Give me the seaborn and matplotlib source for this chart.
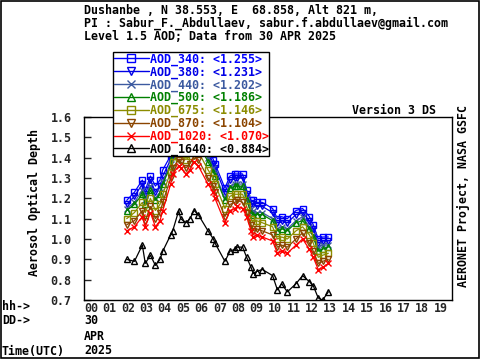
import matplotlib
matplotlib.use("Agg")
import matplotlib.pyplot as plt
import seaborn as sns
import pandas as pd
from matplotlib.lines import Line2D
from matplotlib.patches import Rectangle

sns.set_style("ticks")
plt.rcParams['font.family'] = ['DejaVu Sans Mono']
plt.rcParams['font.weight'] = 'bold'

hours = [2.32, 2.74, 3.17, 3.33, 3.61, 3.88, 4.13, 4.28, 4.71, 4.82, 5.15, 5.25, 5.54, 5.76, 5.98, 6.21,
         6.74, 7.03, 7.12, 7.66, 7.93, 8.21, 8.33, 8.62, 8.84, 9.08, 9.20, 9.38, 9.69, 10.25, 10.51,
         10.74, 11.05, 11.52, 11.88, 12.25, 12.46, 12.73, 12.97, 13.28]

aod_340 = [1.19, 1.23, 1.29, 1.24, 1.31, 1.26, 1.29, 1.34, 1.41, 1.46, 1.54, 1.53, 1.50, 1.52, 1.56, 1.54,
           1.45, 1.39, 1.37, 1.25, 1.31, 1.32, 1.32, 1.32, 1.24, 1.19, 1.19, 1.18, 1.18, 1.15, 1.10,
           1.11, 1.10, 1.14, 1.15, 1.11, 1.07, 1.00, 1.01, 1.01]
aod_380 = [1.17, 1.21, 1.27, 1.22, 1.29, 1.23, 1.26, 1.31, 1.39, 1.44, 1.52, 1.51, 1.48, 1.50, 1.54, 1.52,
           1.43, 1.37, 1.35, 1.23, 1.29, 1.30, 1.30, 1.30, 1.22, 1.17, 1.17, 1.16, 1.16, 1.13, 1.08,
           1.09, 1.08, 1.12, 1.13, 1.09, 1.05, 0.98, 0.99, 0.99]
aod_440 = [1.15, 1.18, 1.24, 1.19, 1.26, 1.20, 1.23, 1.28, 1.37, 1.42, 1.49, 1.48, 1.45, 1.47, 1.51, 1.49,
           1.40, 1.35, 1.32, 1.20, 1.26, 1.27, 1.27, 1.27, 1.20, 1.15, 1.14, 1.13, 1.13, 1.10, 1.05,
           1.06, 1.05, 1.09, 1.11, 1.06, 1.02, 0.96, 0.97, 0.97]
aod_500 = [1.14, 1.17, 1.22, 1.17, 1.24, 1.19, 1.22, 1.27, 1.36, 1.41, 1.47, 1.46, 1.43, 1.45, 1.49, 1.47,
           1.38, 1.33, 1.31, 1.19, 1.25, 1.26, 1.26, 1.26, 1.19, 1.13, 1.12, 1.12, 1.12, 1.09, 1.04,
           1.05, 1.04, 1.08, 1.09, 1.05, 1.01, 0.94, 0.95, 0.96]
aod_675 = [1.10, 1.13, 1.18, 1.13, 1.20, 1.14, 1.17, 1.22, 1.33, 1.38, 1.43, 1.42, 1.39, 1.41, 1.45, 1.43,
           1.34, 1.30, 1.27, 1.15, 1.21, 1.22, 1.22, 1.22, 1.16, 1.10, 1.08, 1.09, 1.08, 1.06, 1.00,
           1.01, 1.00, 1.04, 1.06, 1.02, 0.98, 0.91, 0.92, 0.93]
aod_870 = [1.07, 1.09, 1.14, 1.09, 1.16, 1.10, 1.13, 1.18, 1.30, 1.35, 1.39, 1.38, 1.35, 1.37, 1.41, 1.39,
           1.30, 1.26, 1.23, 1.11, 1.17, 1.18, 1.19, 1.18, 1.13, 1.07, 1.04, 1.05, 1.04, 1.02, 0.96,
           0.97, 0.96, 1.00, 1.03, 0.98, 0.94, 0.88, 0.89, 0.90]
aod_1020 = [1.04, 1.06, 1.11, 1.06, 1.13, 1.06, 1.09, 1.14, 1.27, 1.32, 1.36, 1.35, 1.32, 1.34, 1.38, 1.36,
            1.27, 1.23, 1.20, 1.08, 1.14, 1.15, 1.16, 1.15, 1.11, 1.04, 1.01, 1.02, 1.01, 0.99, 0.93,
            0.94, 0.93, 0.97, 1.00, 0.95, 0.91, 0.85, 0.86, 0.88]
aod_1640 = [0.90, 0.89, 0.97, 0.88, 0.92, 0.87, 0.90, 0.94, 1.02, 1.04, 1.14, 1.10, 1.08, 1.10, 1.14, 1.12,
            1.04, 1.00, 0.98, 0.89, 0.94, 0.95, 0.96, 0.96, 0.91, 0.86, 0.83, 0.84, 0.85, 0.82, 0.75,
            0.78, 0.74, 0.78, 0.82, 0.79, 0.77, 0.71, 0.70, 0.74]

series_names = ["AOD_340", "AOD_380", "AOD_440", "AOD_500", "AOD_675", "AOD_870", "AOD_1020", "AOD_1640"]
series_values = [aod_340, aod_380, aod_440, aod_500, aod_675, aod_870, aod_1020, aod_1640]
series_means = ["1.255", "1.231", "1.202", "1.186", "1.146", "1.104", "1.070", "0.884"]
colors = ["#0000ff", "#0000e6", "#3c5aa0", "#008000", "#8c8c00", "#8b4500", "#ff0000", "#000000"]
markers = ["s", "v", "x", "^", "s", "v", "x", "^"]

yticks = [0.7, 0.8, 0.9, 1.0, 1.1, 1.2, 1.3, 1.4, 1.5, 1.6]
hour_labels = ["%02d" % h for h in range(20)]

FS = 8.4
fig = plt.figure(figsize=(4.8, 3.6), dpi=100)
fig.patch.set_facecolor("white")
ax = fig.add_axes([84 / 480, 1 - 300 / 360, 368 / 480, 183 / 360])

handles = []
for name, vals, col, mk in zip(series_names, series_values, colors, markers):
    df = pd.DataFrame({"hour": hours, "aod": vals})
    sns.lineplot(data=df, x="hour", y="aod", ax=ax, color=col, marker=mk, markersize=4.5,
                 markerfacecolor="none", markeredgecolor=col, markeredgewidth=1.0,
                 linewidth=0.9, legend=False, sort=False)
    handles.append(Line2D([], [], color=col, marker=mk, markersize=6, markerfacecolor="none",
                          markeredgecolor=col, markeredgewidth=1.0, linewidth=1.0))

ax.set_xlim(0, 20)
ax.set_ylim(0.7, 1.6)
ax.set_xticks(range(20))
ax.set_xticklabels(hour_labels, ha="left")
ax.set_yticks(yticks)
ax.set_yticklabels(["%.1f" % v for v in yticks])
ax.tick_params(axis="x", length=0, pad=1.5, labelsize=FS)
ax.tick_params(axis="y", direction="in", length=5, width=1, pad=9, labelsize=FS)
for lab in ax.get_xticklabels() + ax.get_yticklabels():
    lab.set_fontweight("bold")
ax.set_xlabel("")
ax.set_ylabel("")
for s in ax.spines.values():
    s.set_linewidth(1)
    s.set_color("black")

labels = ["%s: <%s>" % (n, m) for n, m in zip(series_names, series_means)]
leg = fig.legend(handles, labels, loc="upper left", bbox_to_anchor=(113 / 480, 1 - 52 / 360),
                 frameon=True, fancybox=False, framealpha=1, edgecolor="black",
                 handlelength=3.0, handletextpad=0.1, labelspacing=-0.04, borderpad=0.05,
                 borderaxespad=0, prop={"family": "DejaVu Sans Mono", "weight": "bold", "size": FS})
leg.get_frame().set_linewidth(1)
leg.set_zorder(10)
for txt, col in zip(leg.get_texts(), colors):
    txt.set_color(col)

tk = dict(fontsize=FS, fontweight="bold", family="DejaVu Sans Mono", color="black")
fig.text(84 / 480, 1 - 10 / 360, "Dushanbe , N 38.553, E  68.858, Alt 821 m,", ha="left", va="center", **tk)
fig.text(84 / 480, 1 - 23 / 360, "PI : Sabur_F._Abdullaev, sabur.f.abdullaev@gmail.com", ha="left", va="center", **tk)
fig.text(84 / 480, 1 - 36 / 360, "Level 1.5 AOD; Data from 30 APR 2025", ha="left", va="center", **tk)
fig.text(436 / 480, 1 - 111 / 360, "Version 3 DS", ha="right", va="center", **tk)
fig.text(463 / 480, 1 - 196 / 360, "AERONET Project, NASA GSFC", rotation=90, ha="center", va="center", **tk)
fig.text(34 / 480, 1 - 203 / 360, "Aerosol Optical Depth", rotation=90, ha="center", va="center", **tk)
fig.text(2 / 480, 1 - 307 / 360, "hh->", ha="left", va="center", **tk)
fig.text(2 / 480, 1 - 321 / 360, "DD->", ha="left", va="center", **tk)
fig.text(84 / 480, 1 - 321 / 360, "30", ha="left", va="center", **tk)
fig.text(84 / 480, 1 - 337 / 360, "APR", ha="left", va="center", **tk)
fig.text(2 / 480, 1 - 351 / 360, "Time(UTC)", ha="left", va="center", **tk)
fig.text(84 / 480, 1 - 351 / 360, "2025", ha="left", va="center", **tk)

fig.patches.append(Rectangle((0.5 / 480, 2.5 / 360), 478.5 / 480, 357 / 360, transform=fig.transFigure,
                             fill=False, edgecolor="black", linewidth=1.2))

fig.savefig("out.png", dpi=100, facecolor="white")
